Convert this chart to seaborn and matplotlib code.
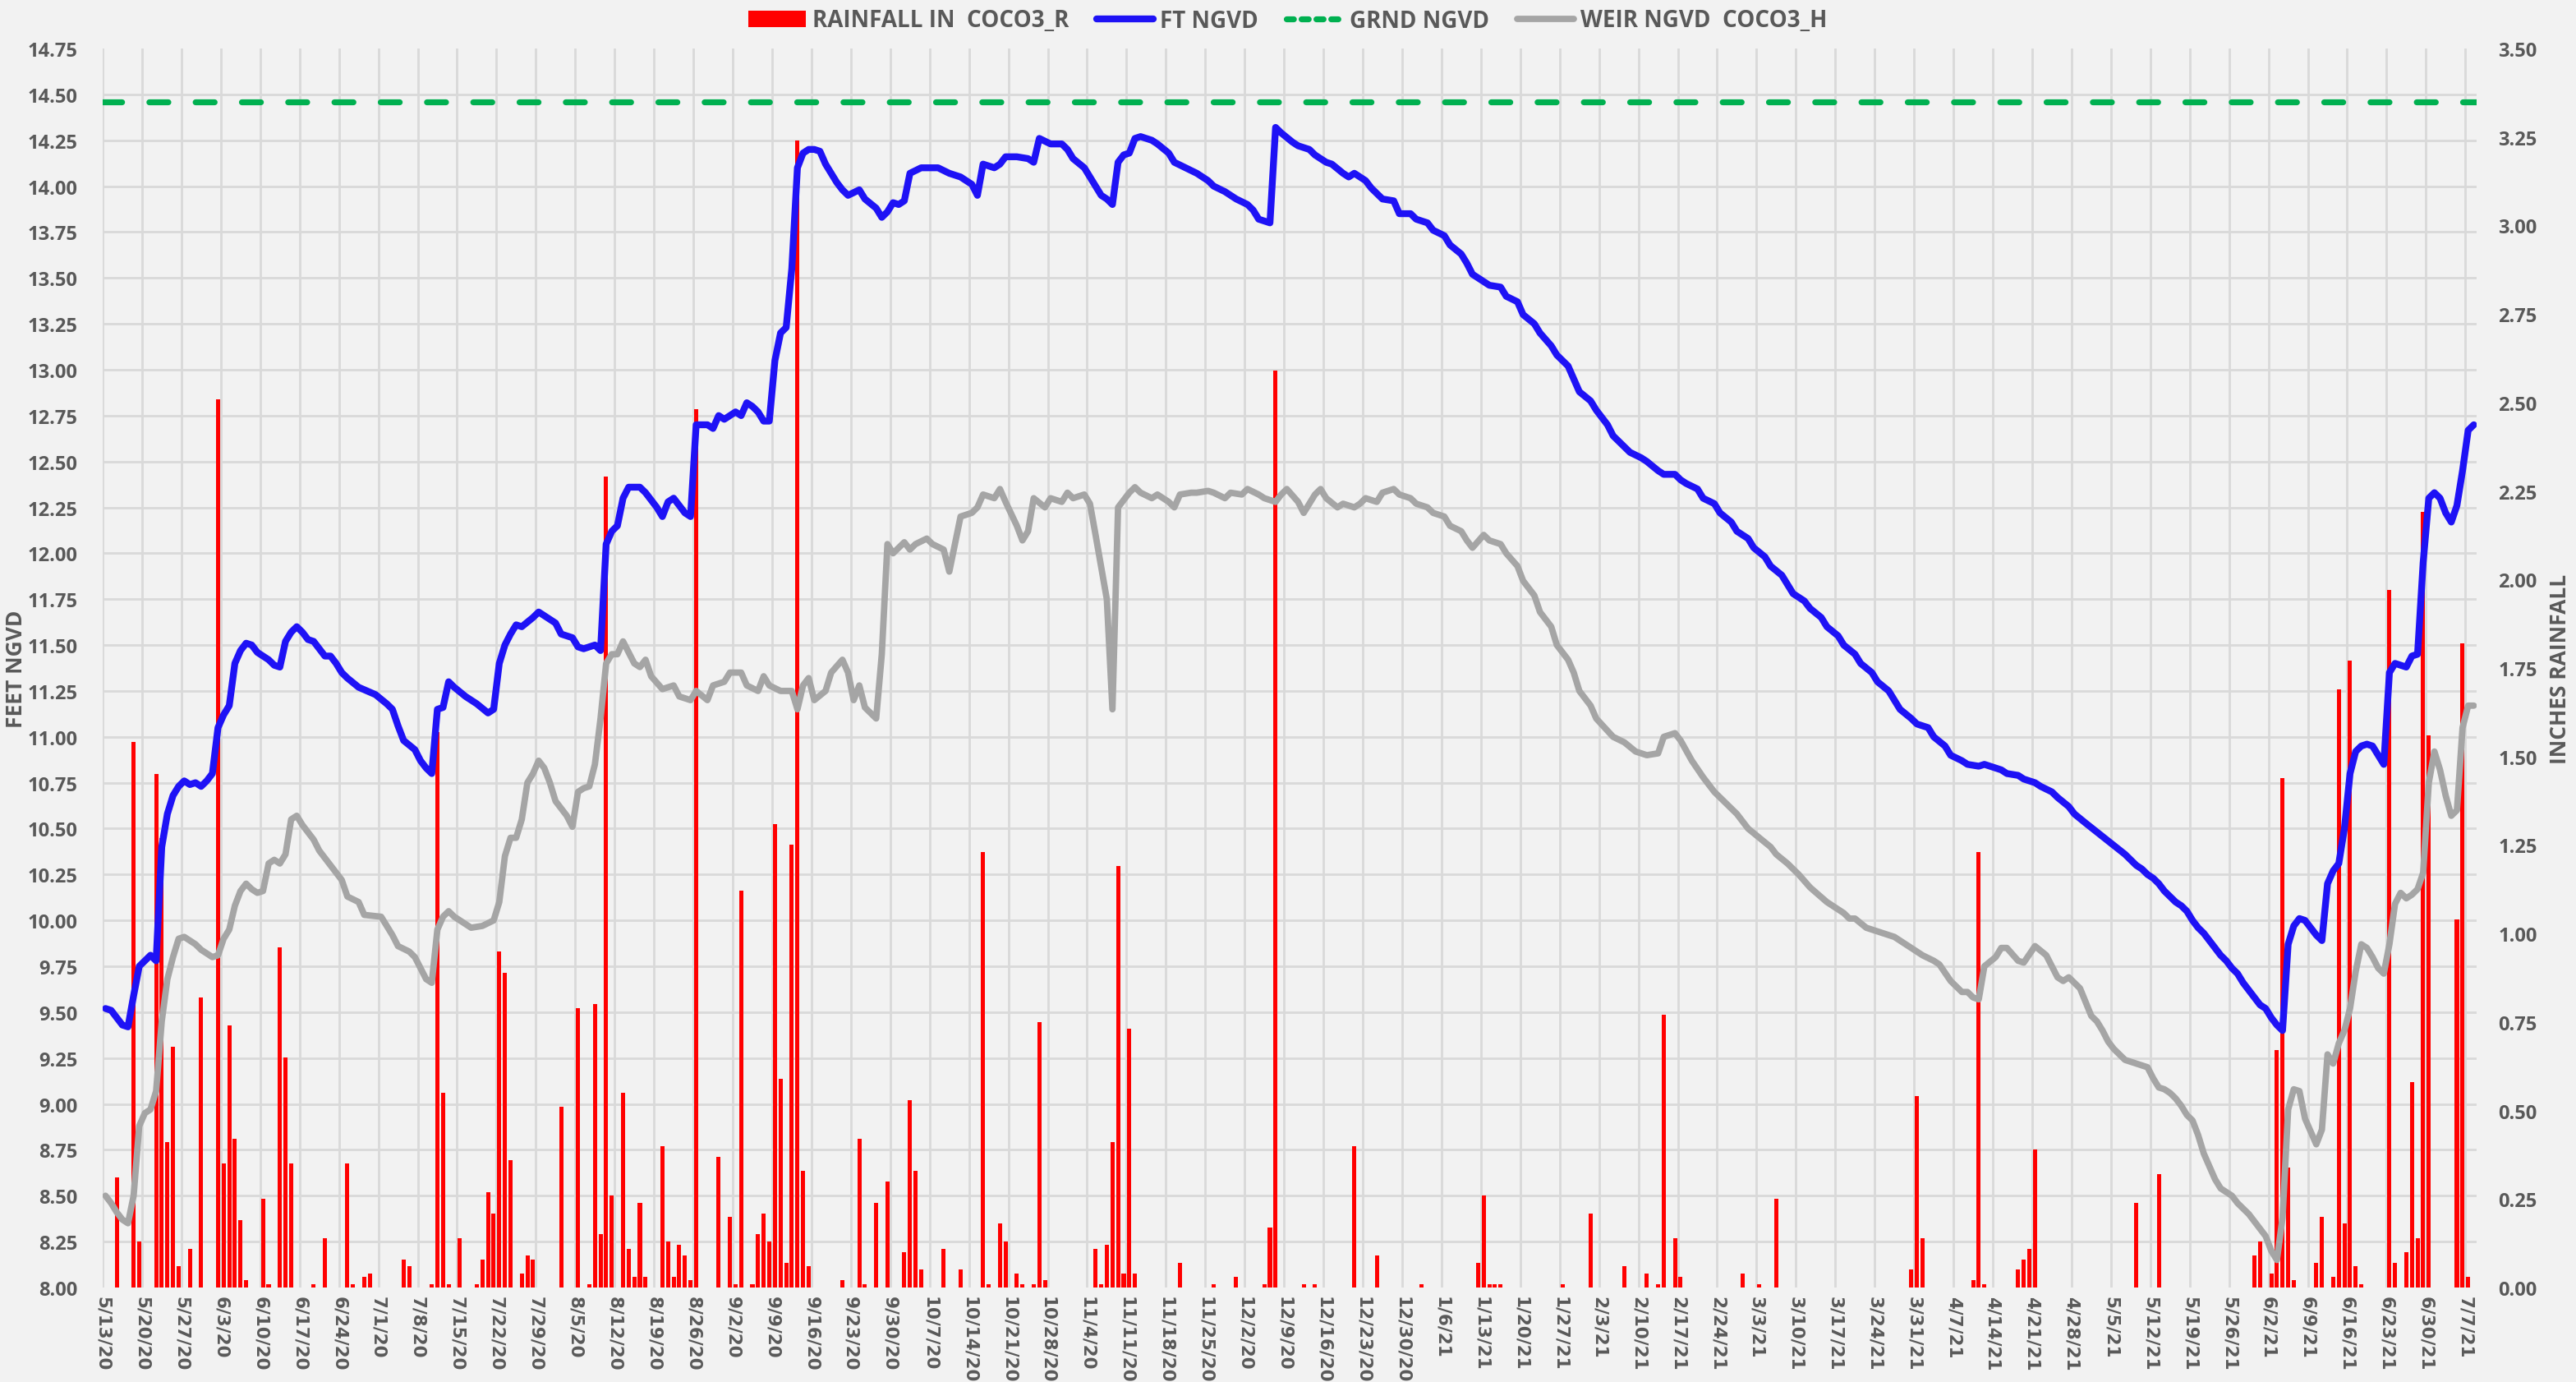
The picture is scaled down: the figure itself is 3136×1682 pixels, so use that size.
import numpy as np
import pandas as pd
import matplotlib
matplotlib.use("Agg")
import matplotlib.pyplot as plt
import seaborn as sns
from matplotlib.lines import Line2D
from matplotlib.patches import Patch

# ---------------- data ----------------
START_DATE = "2020-05-13"
N_DAYS = 422

rain_day = [2,5,6,9,10,11,12,13,15,17,20,21,22,23,24,25,28,29,31,32,33,37,39,43,44,46,47,53,54,58,59,60,61,63,66,67,68,69,70,71,72,74,75,76,81,84,86,87,88,89,90,92,93,94,95,96,99,100,101,102,103,104,105,109,111,112,113,115,116,117,118,119,120,121,122,123,124,125,131,134,135,137,139,142,143,144,145,149,152,156,157,159,160,162,163,165,166,167,176,177,178,179,180,181,182,183,191,197,201,206,207,208,213,215,222,226,234,244,245,246,247,248,259,264,270,274,276,277,279,280,291,294,297,321,322,323,332,333,334,340,341,342,343,361,365,382,383,385,386,387,388,389,393,394,396,397,398,399,400,401,406,407,409,410,411,412,413,418,419,420]
rain_in = [0.31,1.54,0.13,1.45,1.27,0.41,0.68,0.06,0.11,0.82,2.51,0.35,0.74,0.42,0.19,0.02,0.25,0.01,0.96,0.65,0.35,0.01,0.14,0.35,0.01,0.03,0.04,0.08,0.06,0.01,1.57,0.55,0.01,0.14,0.01,0.08,0.27,0.21,0.95,0.89,0.36,0.04,0.09,0.08,0.51,0.79,0.01,0.80,0.15,2.29,0.26,0.55,0.11,0.03,0.24,0.03,0.40,0.13,0.03,0.12,0.09,0.02,2.48,0.37,0.20,0.01,1.12,0.01,0.15,0.21,0.13,1.31,0.59,0.07,1.25,3.24,0.33,0.06,0.02,0.42,0.01,0.24,0.30,0.10,0.53,0.33,0.05,0.11,0.05,1.23,0.01,0.18,0.13,0.04,0.01,0.01,0.75,0.02,0.11,0.01,0.12,0.41,1.19,0.04,0.73,0.04,0.07,0.01,0.03,0.01,0.17,2.59,0.01,0.01,0.40,0.09,0.01,0.07,0.26,0.01,0.01,0.01,0.01,0.21,0.06,0.04,0.01,0.77,0.14,0.03,0.04,0.01,0.25,0.05,0.54,0.14,0.02,1.23,0.01,0.05,0.08,0.11,0.39,0.24,0.32,0.09,0.13,0.04,0.67,1.44,0.34,0.02,0.07,0.20,0.03,1.69,0.18,1.77,0.06,0.01,1.97,0.07,0.10,0.58,0.14,2.19,1.56,1.04,1.82,0.03]

ft_day = [0,1,2,3,4,5,6,7,8,9,10,11,12,13,14,15,16,17,18,19,20,21,22,23,24,25,26,27,28,29,30,31,32,33,34,35,36,37,38,39,40,41,42,43,45,48,50,51,52,53,55,56,57,58,59,60,61,62,64,66,68,69,70,71,72,73,74,76,77,78,80,81,83,84,85,87,88,89,90,91,92,93,95,96,98,99,100,101,102,103,104,105,107,108,109,110,112,113,114,115,116,117,118,119,120,121,122,123,124,125,126,127,128,129,130,131,132,134,135,137,138,139,140,141,142,143,145,148,150,152,154,155,156,158,159,160,162,164,165,166,168,170,171,172,174,175,176,177,178,179,180,181,182,183,184,186,187,189,190,192,194,196,197,199,201,203,204,205,207,208,209,211,212,214,215,217,218,220,221,222,224,225,227,229,230,232,233,235,236,238,239,241,242,243,245,246,248,249,251,252,254,255,257,258,260,261,262,264,265,267,268,270,271,273,274,276,277,279,280,281,283,284,286,287,289,290,292,293,295,296,298,299,300,302,303,305,306,308,309,311,312,314,315,317,318,319,321,322,324,325,327,328,330,331,333,334,335,337,338,340,341,343,344,346,347,349,350,352,359,360,361,362,363,364,365,366,367,368,369,370,371,372,373,374,375,376,377,378,379,380,381,382,383,384,385,386,387,388,389,390,391,392,393,394,395,396,397,398,399,400,401,402,403,404,405,406,407,408,409,410,411,412,413,414,415,416,417,418,419,420,421]
ft_ngvd = [9.52,9.51,9.47,9.43,9.42,9.59,9.75,9.78,9.81,9.78,10.40,10.58,10.68,10.73,10.76,10.74,10.75,10.73,10.76,10.80,11.05,11.12,11.17,11.40,11.47,11.51,11.50,11.46,11.44,11.42,11.39,11.38,11.52,11.57,11.60,11.57,11.53,11.52,11.48,11.44,11.44,11.40,11.35,11.32,11.27,11.23,11.18,11.15,11.06,10.98,10.93,10.87,10.83,10.80,11.15,11.16,11.30,11.27,11.22,11.18,11.13,11.15,11.40,11.50,11.56,11.61,11.60,11.65,11.68,11.66,11.62,11.56,11.54,11.49,11.48,11.50,11.47,12.05,12.12,12.15,12.30,12.36,12.36,12.33,12.25,12.20,12.28,12.30,12.26,12.22,12.20,12.70,12.70,12.68,12.75,12.73,12.77,12.75,12.82,12.80,12.77,12.72,12.72,13.05,13.20,13.23,13.55,14.10,14.18,14.20,14.20,14.19,14.12,14.07,14.02,13.98,13.95,13.98,13.93,13.88,13.83,13.86,13.91,13.90,13.92,14.07,14.10,14.10,14.07,14.05,14.01,13.95,14.12,14.10,14.12,14.16,14.16,14.15,14.13,14.26,14.23,14.23,14.20,14.15,14.10,14.05,14.00,13.95,13.93,13.90,14.13,14.17,14.18,14.26,14.27,14.25,14.23,14.18,14.13,14.10,14.07,14.03,14.00,13.97,13.93,13.90,13.87,13.82,13.80,14.32,14.29,14.24,14.22,14.20,14.17,14.13,14.12,14.07,14.05,14.07,14.03,13.99,13.93,13.92,13.85,13.85,13.82,13.80,13.76,13.73,13.68,13.63,13.58,13.52,13.48,13.46,13.45,13.40,13.37,13.30,13.25,13.20,13.13,13.08,13.02,12.95,12.88,12.83,12.78,12.70,12.64,12.58,12.55,12.52,12.50,12.45,12.43,12.43,12.40,12.38,12.35,12.30,12.27,12.22,12.17,12.12,12.08,12.03,11.98,11.93,11.88,11.83,11.78,11.74,11.70,11.65,11.60,11.55,11.50,11.45,11.40,11.35,11.30,11.25,11.20,11.15,11.10,11.07,11.05,11.00,10.95,10.90,10.87,10.85,10.84,10.85,10.84,10.82,10.80,10.79,10.77,10.75,10.73,10.70,10.67,10.62,10.58,10.53,10.36,10.33,10.30,10.28,10.25,10.23,10.20,10.16,10.13,10.10,10.08,10.05,10.00,9.96,9.93,9.89,9.85,9.81,9.78,9.74,9.71,9.66,9.62,9.58,9.54,9.52,9.47,9.43,9.40,9.87,9.97,10.01,10.00,9.96,9.92,9.89,10.20,10.27,10.31,10.50,10.80,10.92,10.95,10.96,10.95,10.90,10.85,11.35,11.40,11.39,11.38,11.44,11.45,11.95,12.30,12.33,12.30,12.22,12.17,12.26,12.45,12.67,12.70]

weir_day = [0,1,2,3,4,5,6,7,8,9,10,11,12,13,14,15,16,17,18,19,20,21,22,23,24,25,26,27,28,29,30,31,32,33,34,35,37,38,40,42,43,45,46,49,50,51,52,54,55,56,57,58,59,60,61,62,64,65,67,69,70,71,72,73,74,75,76,77,78,79,80,82,83,84,85,86,87,88,89,90,91,92,93,94,95,96,97,99,101,102,104,105,107,108,110,111,113,114,116,117,118,120,122,123,124,125,126,128,129,131,132,133,134,135,137,138,139,140,142,143,144,146,147,149,150,151,152,154,155,156,158,159,160,162,163,164,165,167,168,170,171,172,174,175,176,178,179,180,182,183,184,186,187,189,190,191,193,194,196,197,199,200,202,203,205,206,208,209,210,212,213,215,216,217,219,220,222,223,224,226,227,229,230,232,233,235,236,238,239,241,242,243,245,246,248,249,251,252,254,255,257,258,260,261,262,264,265,268,270,272,274,276,277,279,280,282,284,286,288,290,292,294,296,297,299,301,303,306,309,310,311,313,315,318,320,323,325,326,328,330,331,332,333,334,336,337,338,340,341,343,345,346,347,348,349,351,353,354,355,356,357,358,359,360,361,362,363,364,365,366,367,368,369,370,371,372,373,374,375,376,377,378,379,380,381,382,383,384,385,386,387,388,389,390,391,392,393,394,395,396,397,398,399,400,401,402,403,404,405,406,407,408,409,410,411,412,413,414,415,416,417,418,419,420,421]
weir_ngvd = [8.50,8.46,8.41,8.37,8.35,8.50,8.88,8.95,8.97,9.07,9.45,9.68,9.80,9.90,9.91,9.89,9.87,9.84,9.82,9.80,9.81,9.90,9.95,10.08,10.16,10.20,10.17,10.15,10.16,10.31,10.33,10.31,10.36,10.55,10.57,10.52,10.44,10.38,10.30,10.22,10.13,10.10,10.03,10.02,9.97,9.92,9.86,9.83,9.80,9.74,9.68,9.66,9.95,10.02,10.05,10.02,9.98,9.96,9.97,10.00,10.10,10.35,10.45,10.45,10.55,10.75,10.80,10.87,10.83,10.75,10.65,10.57,10.51,10.70,10.72,10.73,10.85,11.10,11.40,11.45,11.45,11.52,11.46,11.40,11.38,11.42,11.33,11.26,11.28,11.22,11.20,11.25,11.20,11.28,11.30,11.35,11.35,11.28,11.25,11.33,11.28,11.25,11.25,11.15,11.28,11.32,11.20,11.25,11.35,11.42,11.35,11.20,11.28,11.16,11.10,11.45,12.05,12.00,12.06,12.02,12.05,12.08,12.05,12.02,11.90,12.05,12.20,12.22,12.25,12.32,12.30,12.35,12.28,12.15,12.07,12.12,12.30,12.25,12.30,12.28,12.33,12.30,12.32,12.27,12.10,11.75,11.15,12.25,12.33,12.36,12.33,12.30,12.32,12.28,12.25,12.32,12.33,12.33,12.34,12.33,12.30,12.33,12.32,12.35,12.32,12.30,12.28,12.32,12.35,12.28,12.22,12.32,12.35,12.30,12.25,12.27,12.25,12.27,12.30,12.28,12.33,12.35,12.32,12.30,12.27,12.25,12.22,12.20,12.15,12.12,12.07,12.03,12.10,12.07,12.05,12.00,11.93,11.85,11.77,11.68,11.60,11.50,11.42,11.35,11.25,11.17,11.10,11.00,10.97,10.92,10.90,10.91,11.00,11.02,10.98,10.87,10.78,10.70,10.64,10.58,10.50,10.45,10.40,10.36,10.31,10.25,10.18,10.10,10.04,10.01,10.01,9.96,9.94,9.91,9.87,9.81,9.78,9.76,9.67,9.61,9.61,9.58,9.57,9.75,9.80,9.85,9.85,9.78,9.77,9.86,9.81,9.75,9.69,9.67,9.69,9.63,9.48,9.45,9.40,9.34,9.30,9.27,9.24,9.23,9.22,9.21,9.20,9.14,9.09,9.08,9.06,9.03,8.99,8.94,8.91,8.83,8.73,8.66,8.59,8.54,8.52,8.50,8.46,8.43,8.40,8.36,8.32,8.28,8.20,8.15,8.38,8.97,9.08,9.07,8.92,8.85,8.78,8.86,9.27,9.22,9.33,9.40,9.52,9.72,9.87,9.85,9.80,9.74,9.71,9.87,10.09,10.15,10.12,10.14,10.17,10.26,10.75,10.92,10.82,10.68,10.57,10.60,11.05,11.17,11.17]

grnd_ngvd = 14.46

legend_labels = ["RAINFALL IN  COCO3_R", "FT NGVD", "GRND NGVD", "WEIR NGVD  COCO3_H"]

# ---------------- style ----------------
BG = "#F2F2F2"
GRID = "#D9D9D9"
TXT = "#595959"
RED = "#FF0000"
BLUE = "#1E12F5"
GREEN = "#00B050"
GRAY = "#A5A5A5"
FONT = ["Open Sans", "Roboto", "DejaVu Sans"]

sns.set_theme(style="white")
plt.rcParams["font.family"] = FONT
plt.rcParams["font.weight"] = "bold"

W, H = 3136, 1683
fig = plt.figure(figsize=(W / 100, H / 100), dpi=100, facecolor=BG)
L, R, T, B = 125, 3015, 60, 1568
ax_r = fig.add_axes([L / W, 1 - B / H, (R - L) / W, (B - T) / H])
ax_r.set_facecolor(BG)
ax_f = ax_r.twinx()
ax_f.patch.set_visible(False)

# rain bars (full daily table built from the sparse arrays)
rain_full = pd.Series(rain_in, index=rain_day).reindex(range(N_DAYS), fill_value=0.0)
rain_df = pd.DataFrame({"x": rain_full.index.values + 0.5, "rain": rain_full.values})
sns.barplot(data=rain_df, x="x", y="rain", native_scale=True, width=0.74,
            color=RED, saturation=1, errorbar=None, linewidth=0, ax=ax_r)

ft_df = pd.DataFrame({"x": np.array(ft_day) + 0.5, "ft": ft_ngvd})
weir_df = pd.DataFrame({"x": np.array(weir_day) + 0.5, "ft": weir_ngvd})

ax_f.axhline(grnd_ngvd, color=GREEN, lw=5.2, dashes=(3.2, 4.6), dash_capstyle="round", zorder=2)
sns.lineplot(data=weir_df, x="x", y="ft", color=GRAY, lw=5.6, ax=ax_f, zorder=3,
             solid_joinstyle="round", solid_capstyle="round")
sns.lineplot(data=ft_df, x="x", y="ft", color=BLUE, lw=6.0, ax=ax_f, zorder=4,
             solid_joinstyle="round", solid_capstyle="round")

# axes limits / ticks
ax_r.set_xlim(0, N_DAYS)
ax_r.set_ylim(0, 3.5)
ax_f.set_ylim(8, 14.75)

xt = np.arange(0, N_DAYS, 7)
dates = pd.to_datetime(START_DATE) + pd.to_timedelta(xt, unit="D")
ax_r.set_xticks(xt)
ax_r.set_xticklabels([f"{d.month}/{d.day}/{d:%y}" for d in dates], rotation=-90,
                     fontsize=15.5, color=TXT, fontweight="bold",
                     family=["DejaVu Sans"], va="top", ha="center")

rt = np.arange(0, 3.5001, 0.25)
lt = np.arange(8, 14.7501, 0.25)
ax_r.set_yticks(rt)
ax_r.set_yticklabels([f"{v:.2f}" for v in rt], fontsize=17, color=TXT, fontweight="bold")
ax_r.set_yticks(np.linspace(0, 3.5, 28), minor=True)
ax_f.set_yticks(lt)
ax_f.set_yticklabels([f"{v:.2f}" for v in lt], fontsize=17, color=TXT, fontweight="bold")

ax_r.yaxis.tick_right()
ax_f.yaxis.tick_left()
ax_r.tick_params(axis="y", which="both", length=0, pad=19)
ax_f.tick_params(axis="y", length=0, pad=22)
ax_r.tick_params(axis="x", length=0, pad=7)

ax_r.grid(False)
ax_f.grid(False)
ax_r.set_axisbelow(True)
ax_r.yaxis.grid(True, which="minor", color=GRID, lw=2.0)
ax_r.yaxis.grid(False, which="major")
ax_r.xaxis.grid(True, which="major", color=GRID, lw=2.0)
ax_r.set_xlabel("")
ax_r.set_ylabel("")
ax_f.set_xlabel("")
ax_f.set_ylabel("")
for a in (ax_r, ax_f):
    for s in a.spines.values():
        s.set_visible(False)

fig.text(20 / W, 1 - 814 / H, "FEET NGVD", rotation=90, ha="center", va="center",
         fontsize=19, color=TXT, fontweight="bold")
fig.text(3117 / W, 1 - 814 / H, "INCHES RAINFALL", rotation=90, ha="center", va="center",
         fontsize=19, color=TXT, fontweight="bold")

handles = [Patch(facecolor=RED, edgecolor="none"),
           Line2D([], [], color=BLUE, lw=6.0),
           Line2D([], [], color=GREEN, lw=5.2, dashes=(1.2, 1.3), dash_capstyle="round"),
           Line2D([], [], color=GRAY, lw=5.6)]
fig.legend(handles, legend_labels, loc="center", bbox_to_anchor=(0.5, 1 - 26 / H), ncol=4,
           frameon=False, handlelength=2.5, handleheight=0.75,
           handletextpad=0.3, columnspacing=1.2, labelcolor=TXT,
           prop={"family": FONT, "weight": "bold", "size": 20})

fig.savefig("out.png", dpi=100, facecolor=BG)
